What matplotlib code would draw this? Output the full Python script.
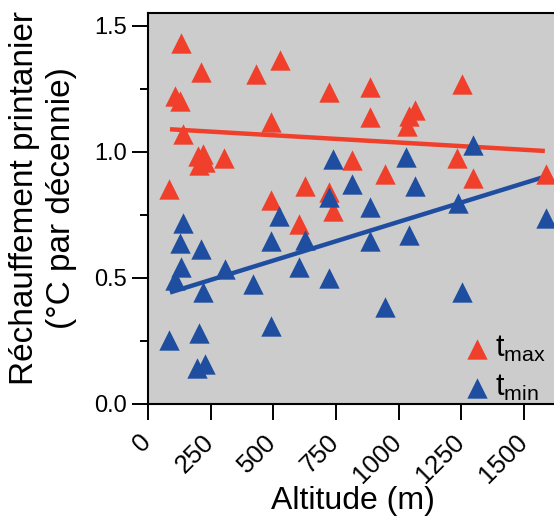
import numpy as np
import matplotlib
matplotlib.use('Agg')
import matplotlib.pyplot as plt
import matplotlib.transforms as mtransforms
from matplotlib.ticker import MultipleLocator

plt.rcParams['font.family'] = ['Liberation Sans', 'DejaVu Sans']
plt.rcParams['mathtext.fontset'] = 'custom'
plt.rcParams['mathtext.rm'] = 'Liberation Sans'
plt.rcParams['mathtext.it'] = 'Liberation Sans'

# Données : altitude (m) et réchauffement (°C par décennie)
tmax_alt = [85, 110, 126, 131, 139, 200, 202, 213, 220, 227, 303, 431, 491, 491, 525,
            602, 628, 722, 722, 740, 813, 884, 885, 944, 1032, 1042, 1067, 1233, 1253, 1297, 1586]
tmax_val = [0.854, 1.22, 1.20, 1.431, 1.069, 0.983, 0.948, 1.318, 0.992, 0.959, 0.975, 1.31,
            1.117, 0.81, 1.362, 0.713, 0.865, 1.237, 0.84, 0.766, 0.966, 1.258, 1.136, 0.912,
            1.10, 1.14, 1.167, 0.975, 1.27, 0.894, 0.91]

tmin_alt = [85, 110, 127, 131, 141, 197, 202, 213, 221, 227, 306, 420, 491, 491, 524,
            602, 626, 722, 722, 740, 813, 885, 885, 944, 1031, 1041, 1067, 1236, 1253, 1297, 1586]
tmin_val = [0.254, 0.491, 0.639, 0.545, 0.719, 0.142, 0.283, 0.616, 0.444, 0.16, 0.536, 0.474,
            0.648, 0.31, 0.746, 0.545, 0.652, 0.82, 0.498, 0.970, 0.874, 0.782, 0.648, 0.384,
            0.979, 0.668, 0.863, 0.795, 0.444, 1.026, 0.739]

# droites de tendance (extrémités)
fit_alt = [88, 1583]
tmax_fit = [1.089, 1.003]
tmin_fit = [0.442, 0.901]

red = '#f0402c'
blue = '#1f4ea0'

fig = plt.figure(figsize=(5.54, 5.17), dpi=100)
ax = fig.add_axes([0.267, 0.2186, 0.74, 0.7563])
ax.set_facecolor('#cbcccb')

ax.plot(fit_alt, tmax_fit, color=red, lw=3.2, solid_capstyle='butt', zorder=2)
ax.plot(fit_alt, tmin_fit, color=blue, lw=3.2, solid_capstyle='butt', zorder=2)
ax.scatter(tmax_alt, tmax_val, marker='^', s=215, color=red, linewidths=0, zorder=3,
           label=r'$\mathregular{t_{max}}$')
ax.scatter(tmin_alt, tmin_val, marker='^', s=215, color=blue, linewidths=0, zorder=3,
           label=r'$\mathregular{t_{min}}$')

ax.set_xlim(0, 1635)
ax.set_ylim(0, 1.55)
ax.set_xticks([0, 250, 500, 750, 1000, 1250, 1500])
ax.set_yticks([0.0, 0.5, 1.0, 1.5])
ax.set_yticklabels(['0.0', '0.5', '1.0', '1.5'])
ax.yaxis.set_minor_locator(MultipleLocator(0.25))
ax.tick_params(axis='both', which='major', length=11.5, width=1.4, labelsize=17, direction='out')
ax.tick_params(axis='x', which='major', labelsize=18.5, pad=7)
ax.tick_params(axis='y', which='minor', length=5.5, width=1.4)
# étiquettes inclinées, légèrement décalées vers la gauche
shift = mtransforms.ScaledTranslation(-0.09, 0, fig.dpi_scale_trans)
for lab in ax.get_xticklabels():
    lab.set_rotation(45)
    lab.set_ha('right')
    lab.set_va('top')
    lab.set_rotation_mode('anchor')
    lab.set_transform(lab.get_transform() + shift)
for sp in ax.spines.values():
    sp.set_linewidth(1.5)

ax.set_xlabel('Altitude (m)', fontsize=23)
ax.xaxis.set_label_coords(0.5, -0.21)
ax.set_ylabel('Réchauffement printanier\n(°C par décennie)', fontsize=24, linespacing=1.25)
ax.yaxis.set_label_coords(-0.173, 0.527)

ax.legend(loc='lower right', frameon=False, fontsize=22, handlelength=1.0, handletextpad=0.1,
          bbox_to_anchor=(1.039, -0.068), labelspacing=0.3, markerscale=1.0)

fig.savefig('out.png', dpi=100)
